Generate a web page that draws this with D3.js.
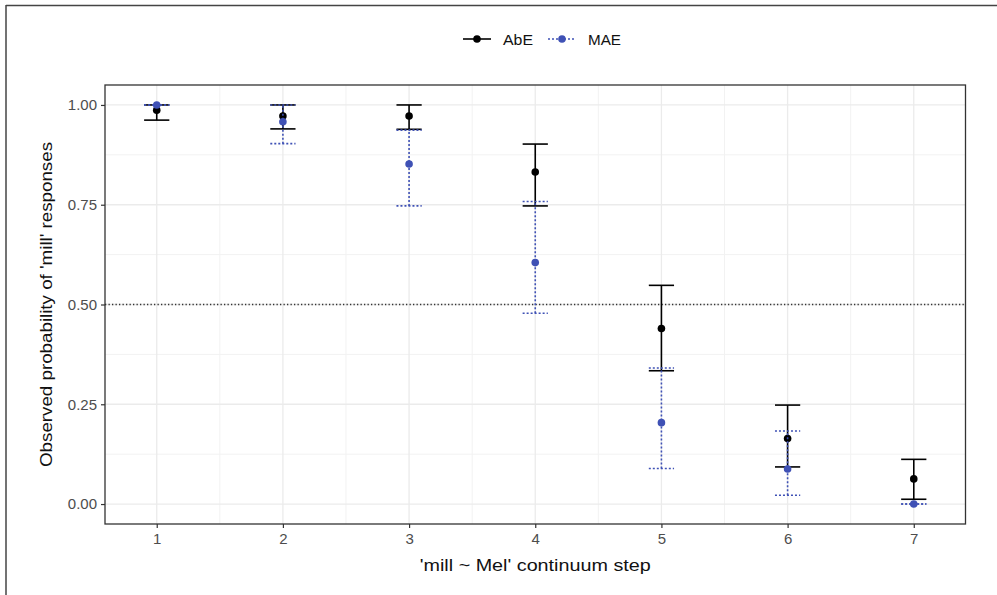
<!DOCTYPE html>
<html><head><meta charset="utf-8">
<script src="https://cdn.jsdelivr.net/npm/d3@7"></script>
<style>body{margin:0;background:#fff;} svg{display:block;font-family:"Liberation Sans",Arial,sans-serif;}</style>
</head><body>
<svg id="c" width="997" height="595"></svg>
<script>
const steps = [1,2,3,4,5,6,7];
const abeMean = [0.987,0.9725,0.9725,0.832,0.44,0.164,0.063];
const abeLow  = [0.962,0.94,0.939,0.747,0.334,0.093,0.012];
const abeHigh = [1.0,1.0,1.0,0.902,0.548,0.248,0.112];
const maeMean = [1.0,0.958,0.852,0.605,0.204,0.088,0.0];
const maeLow  = [1.0,0.903,0.747,0.478,0.089,0.022,0.0];
const maeHigh = [1.0,1.0,0.937,0.758,0.341,0.183,0.0];
const yTicks = [0,0.25,0.5,0.75,1.0];
const yTickLabels = ["0.00","0.25","0.50","0.75","1.00"];
const seriesNames = ["AbE","MAE"];
const refLine = 0.5;

const svg = d3.select("#c");
const L=105, R=965.5, T=85, B=524;
const x = d3.scaleLinear().domain([0.59,7.41]).range([L,R]);
const y = d3.scaleLinear().domain([-0.05,1.05]).range([B,T]);
const blue = "#3f51b5";

// outer frame (top + left)
svg.append("line").attr("x1",6).attr("x2",997).attr("y1",5.5).attr("y2",5.5).attr("stroke","#444").attr("stroke-width",1.5);
svg.append("line").attr("x1",6).attr("x2",6).attr("y1",5).attr("y2",595).attr("stroke","#444").attr("stroke-width",1.5);

const g = svg.append("g");
// minor grid
const yMinor = [0.125,0.375,0.625,0.875];
const xMinor = [1.5,2.5,3.5,4.5,5.5,6.5];
g.selectAll(".ym").data(yMinor).join("line").attr("x1",L).attr("x2",R).attr("y1",d=>y(d)).attr("y2",d=>y(d)).attr("stroke","#f2f2f2").attr("stroke-width",1);
g.selectAll(".xm").data(xMinor).join("line").attr("y1",T).attr("y2",B).attr("x1",d=>x(d)).attr("x2",d=>x(d)).attr("stroke","#f2f2f2").attr("stroke-width",1);
// major grid
g.selectAll(".yM").data(yTicks).join("line").attr("x1",L).attr("x2",R).attr("y1",d=>y(d)).attr("y2",d=>y(d)).attr("stroke","#ebebeb").attr("stroke-width",1.3);
g.selectAll(".xM").data(steps).join("line").attr("y1",T).attr("y2",B).attr("x1",d=>x(d)).attr("x2",d=>x(d)).attr("stroke","#ebebeb").attr("stroke-width",1.3);

// reference line
g.append("line").attr("x1",L).attr("x2",R).attr("y1",y(refLine)).attr("y2",y(refLine)).attr("stroke","#333").attr("stroke-width",1.3).attr("stroke-dasharray","1.3,2.2");

function drawSeries(mean, low, high, color, dash){
  const s = g.append("g");
  steps.forEach((st,i)=>{
    const cx = x(st), hw = x(st+0.1)-x(st);
    const ln = (x1,y1,x2,y2)=>s.append("line").attr("x1",x1).attr("y1",y1).attr("x2",x2).attr("y2",y2)
      .attr("stroke",color).attr("stroke-width",1.6).attr("stroke-dasharray",dash);
    ln(cx,y(low[i]),cx,y(high[i]));
    ln(cx-hw,y(low[i]),cx+hw,y(low[i]));
    ln(cx-hw,y(high[i]),cx+hw,y(high[i]));
  });
  s.selectAll("circle").data(steps).join("circle").attr("cx",d=>x(d)).attr("cy",(d,i)=>y(mean[i])).attr("r",3.8).attr("fill",color);
}
drawSeries(abeMean,abeLow,abeHigh,"#000",null);
drawSeries(maeMean,maeLow,maeHigh,blue,"2,2");

// panel border
g.append("rect").attr("x",L).attr("y",T).attr("width",R-L).attr("height",B-T).attr("fill","none").attr("stroke","#333").attr("stroke-width",1.3);

// axes
const xAxis = d3.axisBottom(x).tickValues(steps).tickSize(4).tickPadding(5).tickFormat(d3.format("d"));
const xa = svg.append("g").attr("transform",`translate(0,${B})`).call(xAxis);
const yAxis = d3.axisLeft(y).tickValues(yTicks).tickSize(4).tickPadding(4).tickFormat((d,i)=>yTickLabels[i]);
const ya = svg.append("g").attr("transform",`translate(${L},0)`).call(yAxis);
[xa,ya].forEach(a=>{
  a.select(".domain").remove();
  a.selectAll(".tick line").attr("stroke","#333").attr("stroke-width",1.2);
  a.selectAll(".tick text").attr("fill","#4d4d4d").attr("font-size",15).style("font-size","15px").style("font-family","Liberation Sans, Arial, sans-serif");
});

// titles
svg.append("text").attr("x",(L+R)/2).attr("y",571).attr("text-anchor","middle").style("font-size","16px").attr("fill","#111")
  .attr("textLength",231).attr("lengthAdjust","spacingAndGlyphs").text("'mill ~ Mel' continuum step");
svg.append("text").attr("transform",`translate(52,${(T+B)/2}) rotate(-90)`).attr("text-anchor","middle").style("font-size","16px").attr("fill","#111")
  .attr("textLength",325).attr("lengthAdjust","spacingAndGlyphs").text("Observed probability of 'mill' responses");

// legend
const leg = svg.append("g");
const legItems = [{name:seriesNames[0],color:"#000",dash:null,x0:463,w:30},{name:seriesNames[1],color:blue,dash:"2,2",x0:548,w:33}];
legItems.forEach(it=>{
  leg.append("line").attr("x1",it.x0).attr("x2",it.x0+28).attr("y1",39).attr("y2",39).attr("stroke",it.color).attr("stroke-width",1.6).attr("stroke-dasharray",it.dash);
  leg.append("circle").attr("cx",it.x0+14).attr("cy",39).attr("r",3.8).attr("fill",it.color);
  leg.append("text").attr("x",it.x0+40).attr("y",44.5).style("font-size","14px").attr("fill","#111")
    .attr("textLength",it.w).attr("lengthAdjust","spacingAndGlyphs").text(it.name);
});
</script>
</body></html>
